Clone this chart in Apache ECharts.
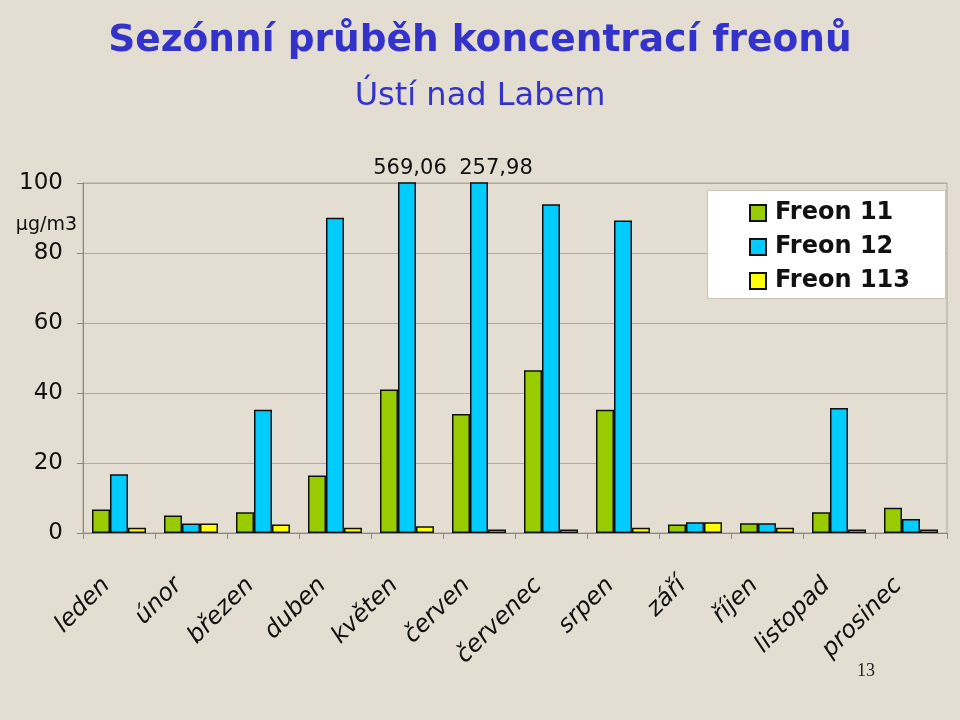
<!DOCTYPE html>
<html>
<head>
<meta charset="utf-8">
<script src="https://cdn.jsdelivr.net/npm/echarts@6/dist/echarts.min.js"></script>
<style>
html,body{margin:0;padding:0;background:#E3DDD2;}
#c{width:960px;height:720px;}
</style>
</head>
<body>
<div id="c"></div>
<script>
var months = ['leden','únor','březen','duben','květen','červen','červenec','srpen','září','říjen','listopad','prosinec'];
var freon11 = [6.7, 5.0, 5.9, 16.4, 41.0, 34.0, 46.5, 35.2, 2.4, 2.8, 5.9, 7.2];
var freon12 = [16.8, 2.7, 35.2, 90.1, 569.06, 257.98, 93.9, 89.3, 3.1, 2.8, 35.7, 4.0];
var freon113 = [1.5, 2.7, 2.4, 1.5, 1.9, 1.0, 1.0, 1.5, 3.1, 1.5, 1.0, 1.0];
var yTicks = [0, 20, 40, 60, 80, 100];
var seriesNames = ['Freon 11', 'Freon 12', 'Freon 113'];

var FONT = 'DejaVu Sans';
var yMax = yTicks[yTicks.length - 1];

// labels for bars exceeding axis maximum
var overflowMarks = [];
var overflowOffsets = {4: [3, 0], 5: [17, 0]};
freon12.forEach(function (v, i) {
  if (v > yMax) {
    overflowMarks.push({
      coord: [months[i], yMax],
      value: v,
      label: {offset: overflowOffsets[i] || [0, 0]}
    });
  }
});

var chart = echarts.init(document.getElementById('c'), null, {renderer: 'canvas'});
var border = {borderColor: '#111', borderWidth: 1.5};
chart.setOption({
  backgroundColor: '#E3DDD2',
  animation: false,
  title: [{
    text: 'Sezónní průběh koncentrací freonů',
    left: 'center', top: 17,
    textStyle: {fontFamily: FONT, fontWeight: 'bold', fontSize: 37.5, color: '#3333CC'}
  }, {
    text: 'Ústí nad Labem',
    left: 'center', top: 76,
    textStyle: {fontFamily: FONT, fontWeight: 'normal', fontSize: 32, color: '#3333CC'}
  }],
  graphic: [{
    type: 'rect', left: 707, top: 190, z: 1,
    shape: {width: 238, height: 108},
    style: {fill: '#FFFFFF', stroke: '#C8C4BC', lineWidth: 1}
  }, {
    type: 'text', left: 857, top: 662, z: 5,
    style: {text: '13', fontFamily: 'Liberation Serif', fontSize: 18, fill: '#222'}
  }],
  legend: {
    data: seriesNames,
    orient: 'vertical',
    left: 744, top: 196,
    z: 10,
    itemWidth: 16, itemHeight: 16, itemGap: 10,
    icon: 'rect',
    textStyle: {fontFamily: FONT, fontWeight: 'bold', fontSize: 24, color: '#111', padding: [0, 0, 0, 4]}
  },
  grid: {left: 83, right: 13, top: 183, bottom: 187, containLabel: false,
         show: true, borderColor: '#ABA59B', borderWidth: 1, backgroundColor: 'transparent'},
  xAxis: {
    type: 'category',
    data: months,
    axisLine: {lineStyle: {color: '#888', width: 1}},
    axisTick: {show: true, length: 6, lineStyle: {color: '#888'}},
    axisLabel: {
      rotate: 45, margin: 36, interval: 0,
      padding: [0, 18, 0, 0],
      fontFamily: FONT, fontStyle: 'italic', fontSize: 24, color: '#111'
    }
  },
  yAxis: {
    type: 'value',
    min: yTicks[0], max: yMax, interval: 20,
    name: 'µg/m3',
    nameLocation: 'end',
    nameGap: -52,
    nameTextStyle: {fontFamily: FONT, fontSize: 19, color: '#111', align: 'right', padding: [0, 6, 0, 0]},
    axisLine: {show: true, lineStyle: {color: '#888'}},
    axisTick: {show: true, length: 6, inside: false, lineStyle: {color: '#888'}},
    axisLabel: {fontFamily: FONT, fontSize: 23, color: '#111', margin: 20},
    splitLine: {show: true, lineStyle: {color: '#B0A99E', width: 1}}
  },
  series: [{
    name: seriesNames[0], type: 'bar', data: freon11,
    barGap: '0%', barCategoryGap: '25%',
    itemStyle: Object.assign({color: '#99CC00'}, border)
  }, {
    name: seriesNames[1], type: 'bar', data: freon12,
    barGap: '0%', barCategoryGap: '25%',
    itemStyle: Object.assign({color: '#00CCFF'}, border),
    markPoint: {
      symbol: 'rect', symbolSize: 0,
      label: {
        show: true, position: 'top', distance: 4,
        fontFamily: FONT, fontSize: 21, color: '#111',
        formatter: function (p) { return p.value.toFixed(2).replace('.', ','); }
      },
      data: overflowMarks
    }
  }, {
    name: seriesNames[2], type: 'bar', data: freon113,
    barGap: '0%', barCategoryGap: '25%',
    itemStyle: Object.assign({color: '#FFFF00'}, border)
  }]
});
</script>
</body>
</html>
